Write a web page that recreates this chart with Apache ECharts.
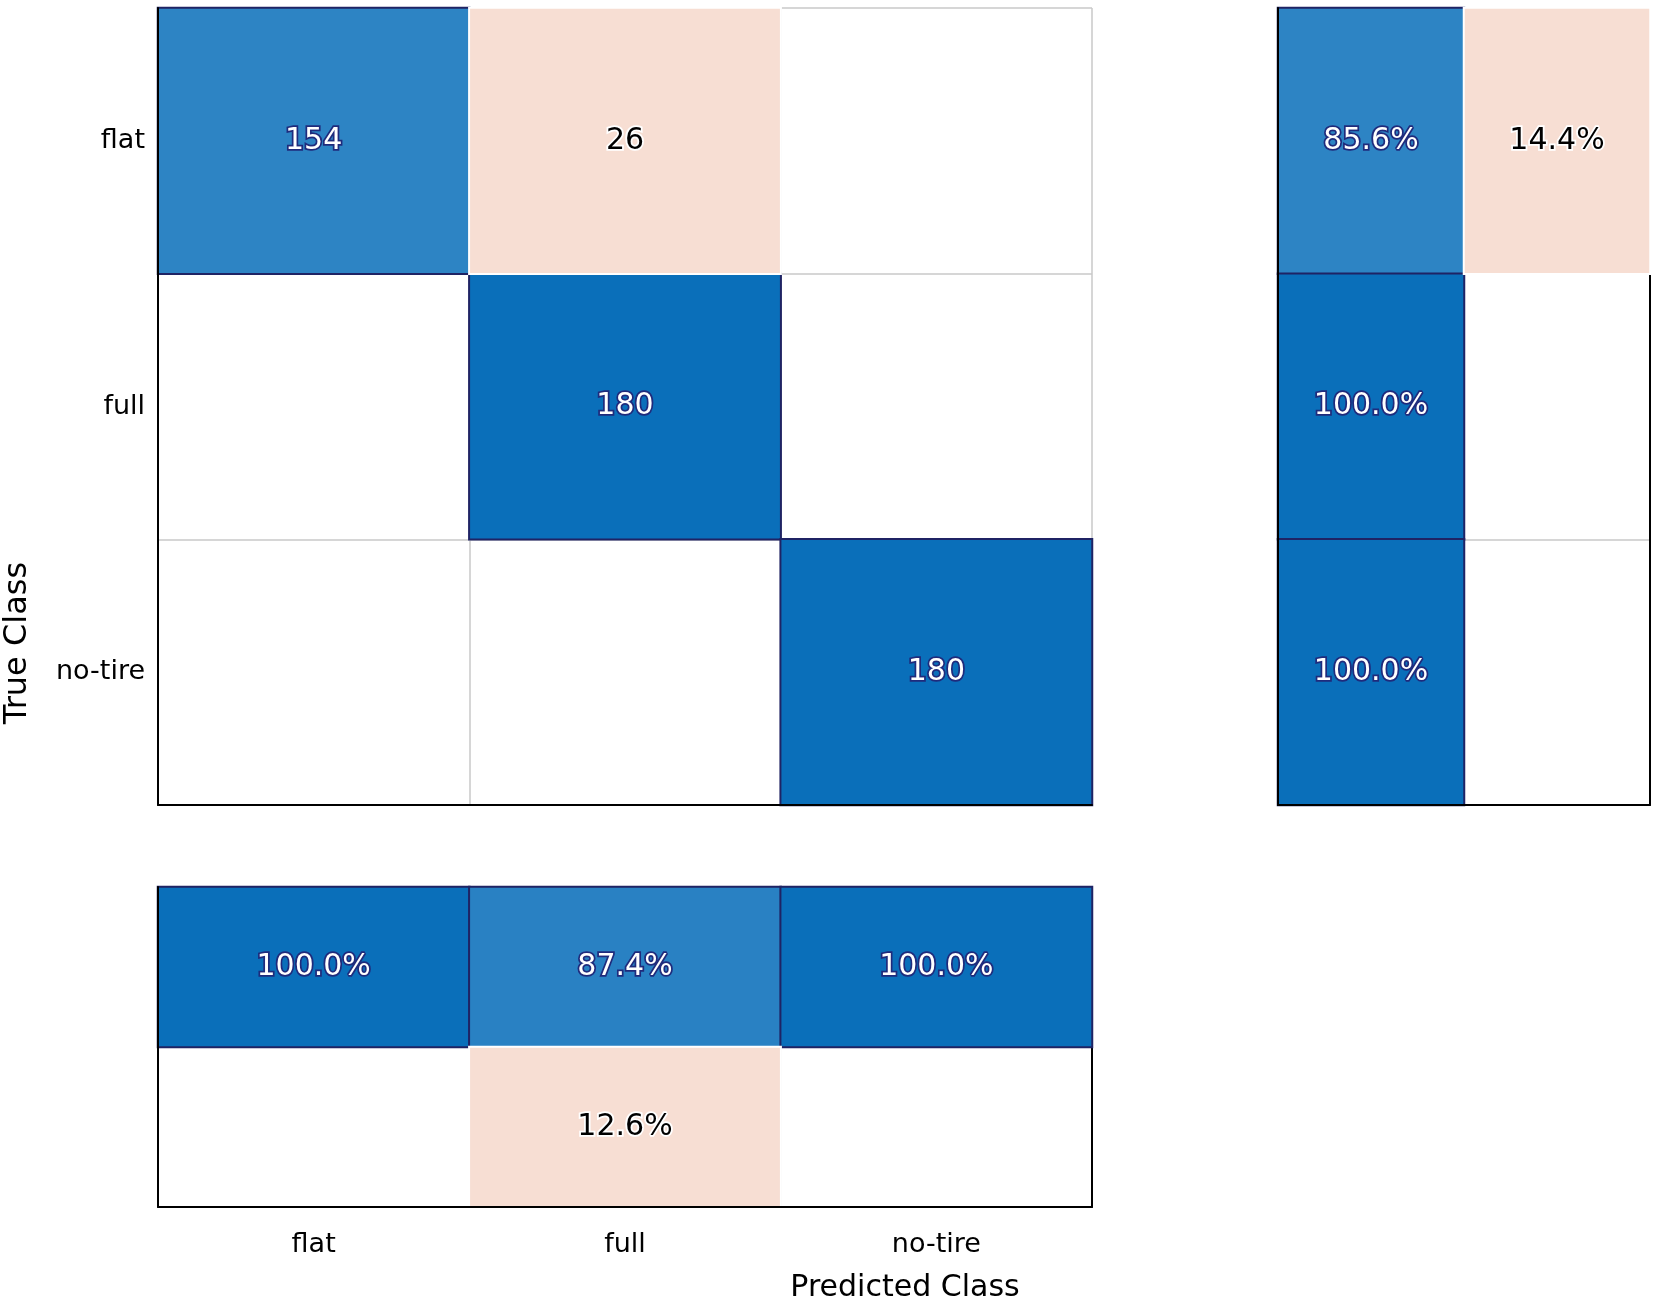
<!DOCTYPE html>
<html>
<head>
<meta charset="utf-8">
<script src="https://cdn.jsdelivr.net/npm/echarts@6/dist/echarts.min.js"></script>
<style>
html,body{margin:0;padding:0;background:#fff;}
#c{width:1655px;height:1306px;}
</style>
</head>
<body>
<div id="c"></div>
<script>
// ---- data ----
var classes = ['flat', 'full', 'no-tire'];
var countsFlat = [154, 26, 0];
var countsFull = [0, 180, 0];
var countsNoTire = [0, 0, 180];
var rowCorrectPct = [85.6, 100.0, 100.0];
var rowWrongPct = [14.4, 0, 0];
var colCorrectPct = [100.0, 87.4, 100.0];
var colWrongPct = [0, 12.6, 0];
var rowSummaryCols = ['correct', 'wrong'];
var colSummaryRows = ['correct', 'wrong'];
var xTitle = 'Predicted Class';
var yTitle = 'True Class';

var counts = [countsFlat, countsFull, countsNoTire];

// build heatmap data
var mainDiag = [], mainOff = [];
counts.forEach(function (row, r) {
  row.forEach(function (v, c) {
    if (v === 0) return;
    if (r === c) mainDiag.push([c, r, v]); else mainOff.push([c, r, v]);
  });
});
var rightBlue = [], rightPink = [];
rowCorrectPct.forEach(function (v, r) { if (v > 0) rightBlue.push([0, r, v]); });
rowWrongPct.forEach(function (v, r) { if (v > 0) rightPink.push([1, r, v]); });
var botBlue = [], botPink = [];
colCorrectPct.forEach(function (v, c) { if (v > 0) botBlue.push([c, 0, v]); });
colWrongPct.forEach(function (v, c) { if (v > 0) botPink.push([c, 1, v]); });

var FONT = 'DejaVu Sans';
var blueLabel = {
  show: true, color: '#ffffff', fontFamily: FONT, fontSize: 30,
  textBorderColor: '#1f2b7c', textBorderWidth: 3.5
};
var pinkLabel = {
  show: true, color: '#000000', fontFamily: FONT, fontSize: 30,
  textBorderColor: '#ffffff', textBorderWidth: 3.5
};
function cntFmt(p) { return String(p.value[2]); }
function pctFmt(p) { return p.value[2].toFixed(1) + '%'; }
var blueItem = { borderColor: '#1f2364', borderWidth: 2 };
var pinkItem = { borderColor: '#ffffff', borderWidth: 2 };

var splitLn = { show: true, lineStyle: { color: '#c8c8c8', width: 1.5 } };
var blackLn = { show: true, lineStyle: { color: '#000000', width: 2 } };

function catAxis(data, gridIndex, position, opts) {
  var a = {
    type: 'category', data: data, gridIndex: gridIndex, position: position,
    axisTick: { show: false }, axisLabel: { show: false },
    axisLine: { show: false }, splitLine: { show: false }
  };
  for (var k in opts) a[k] = opts[k];
  return a;
}

var option = {
  backgroundColor: '#ffffff',
  animation: false,
  grid: [
    { left: 158, top: 8, width: 934, height: 797 },
    { left: 1278, top: 8, width: 372, height: 797 },
    { left: 158, top: 887, width: 934, height: 320 }
  ],
  xAxis: [
    // main grid
    catAxis(classes, 0, 'bottom', { axisLine: blackLn, z: 10 }),
    catAxis(classes, 0, 'top', { splitLine: splitLn }),
    // right grid
    catAxis(rowSummaryCols, 1, 'bottom', { axisLine: blackLn, z: 10 }),
    catAxis(rowSummaryCols, 1, 'top', { splitLine: splitLn }),
    // bottom grid
    catAxis(classes, 2, 'bottom', {
      axisLine: blackLn, z: 10,
      axisLabel: { show: true, color: '#000', fontFamily: FONT, fontSize: 27, margin: 24 }
    }),
    catAxis(classes, 2, 'top', { axisLine: blackLn, splitLine: splitLn })
  ],
  yAxis: [
    catAxis(classes, 0, 'left', {
      inverse: true, axisLine: blackLn, z: 10,
      axisLabel: { show: true, color: '#000', fontFamily: FONT, fontSize: 27, margin: 13 }
    }),
    catAxis(classes, 0, 'right', { inverse: true, splitLine: splitLn }),
    catAxis(classes, 1, 'left', { inverse: true, axisLine: blackLn, z: 10 }),
    catAxis(classes, 1, 'right', { inverse: true, splitLine: splitLn, axisLine: blackLn }),
    catAxis(colSummaryRows, 2, 'left', { inverse: true, axisLine: blackLn, z: 10 }),
    catAxis(colSummaryRows, 2, 'right', { inverse: true, axisLine: blackLn, splitLine: splitLn })
  ],
  visualMap: [
    { type: 'continuous', show: false, seriesIndex: [0], min: 0, max: 180, dimension: 2,
      inRange: { color: ['#ffffff', '#0A6FBA'] } },
    { type: 'continuous', show: false, seriesIndex: [2, 4], min: 0, max: 100, dimension: 2,
      inRange: { color: ['#ffffff', '#0A6FBA'] } },
    { type: 'continuous', show: false, seriesIndex: [1, 3, 5], min: 0, max: 100, dimension: 2,
      inRange: { color: ['#F7DED3', '#F7DED3'] } }
  ],
  series: [
    { type: 'heatmap', xAxisIndex: 0, yAxisIndex: 0, data: mainDiag,
      label: Object.assign({ formatter: cntFmt }, blueLabel), itemStyle: blueItem, emphasis: { disabled: true } },
    { type: 'heatmap', xAxisIndex: 0, yAxisIndex: 0, data: mainOff,
      label: Object.assign({ formatter: cntFmt }, pinkLabel), itemStyle: pinkItem, emphasis: { disabled: true } },
    { type: 'heatmap', xAxisIndex: 2, yAxisIndex: 2, data: rightBlue,
      label: Object.assign({ formatter: pctFmt }, blueLabel), itemStyle: blueItem, emphasis: { disabled: true } },
    { type: 'heatmap', xAxisIndex: 2, yAxisIndex: 2, data: rightPink,
      label: Object.assign({ formatter: pctFmt }, pinkLabel), itemStyle: pinkItem, emphasis: { disabled: true } },
    { type: 'heatmap', xAxisIndex: 4, yAxisIndex: 4, data: botBlue,
      label: Object.assign({ formatter: pctFmt }, blueLabel), itemStyle: blueItem, emphasis: { disabled: true } },
    { type: 'heatmap', xAxisIndex: 4, yAxisIndex: 4, data: botPink,
      label: Object.assign({ formatter: pctFmt }, pinkLabel), itemStyle: pinkItem, emphasis: { disabled: true } }
  ],
  graphic: [
    { type: 'text', x: 905, y: 1288, z: 100,
      style: { text: xTitle, fill: '#000', font: '30px "DejaVu Sans"', textAlign: 'center', textVerticalAlign: 'middle' } },
    { type: 'text', x: 18, y: 643, rotation: Math.PI / 2, z: 100,
      style: { text: yTitle, fill: '#000', font: '32px "DejaVu Sans"', textAlign: 'center', textVerticalAlign: 'middle' } }
  ]
};

var chart = echarts.init(document.getElementById('c'), null, { renderer: 'canvas' });
chart.setOption(option);
</script>
</body>
</html>
